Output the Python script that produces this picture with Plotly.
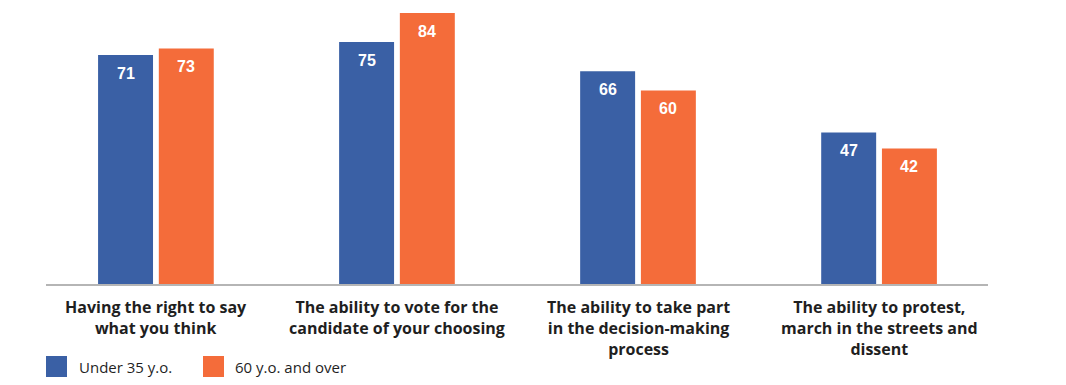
import plotly.graph_objects as go

categories = [
    "Having the right to say<br>what you think",
    "The ability to vote for the<br>candidate of your choosing",
    "The ability to take part<br>in the decision-making<br>process",
    "The ability to protest,<br>march in the streets and<br>dissent",
]
series_names = ["Under 35 y.o.", "60 y.o. and over"]
under35 = [71, 75, 66, 47]
over60 = [73, 84, 60, 42]

BLUE = "#3a60a5"
ORANGE = "#f46c3a"
TEXT = "#1f1f1f"
FONT = "Open Sans"

# page offset (body margin) compensation
OFF = 8
W, H = 1066 - OFF, 385 - OFF
L = 46 - OFF
R = W - (988 - OFF)
B = H - (284 - OFF)
T = 2

x = list(range(len(categories)))

fig = go.Figure()
fig.add_trace(go.Bar(x=x, y=under35, name=series_names[0], marker_color=BLUE,
                     width=0.228, offset=-0.240, marker_line_width=0))
fig.add_trace(go.Bar(x=x, y=over60, name=series_names[1], marker_color=ORANGE,
                     width=0.228, offset=0.012, marker_line_width=0))

annotations = []
for i, (a, b) in enumerate(zip(under35, over60)):
    annotations.append(dict(x=i - 0.126, y=a, text=f"<b>{a}</b>", showarrow=False,
                            yshift=-18, yanchor="middle",
                            font=dict(family="Liberation Sans", size=16, color="white")))
    annotations.append(dict(x=i + 0.126, y=b, text=f"<b>{b}</b>", showarrow=False,
                            yshift=-18, yanchor="middle",
                            font=dict(family="Liberation Sans", size=16, color="white")))
for i, cat in enumerate(categories):
    annotations.append(dict(x=i, y=0, text=f"<b>{cat}</b>", showarrow=False,
                            yanchor="top", yshift=-10, align="center",
                            font=dict(family=FONT, size=16, color=TEXT)))

plot_w = W - L - R
plot_h = H - T - B
def px_to_paper_x(px):
    return (px - OFF - L) / plot_w
def px_to_paper_y(py):
    return (H - B - (py - OFF)) / plot_h

shapes = []
legend_items = [(46, 77), (203, 233)]
for (sx, tx), nm, col in zip(legend_items, series_names, [BLUE, ORANGE]):
    shapes.append(dict(type="rect", xref="paper", yref="paper",
                       x0=px_to_paper_x(sx), x1=px_to_paper_x(sx + 21),
                       y0=px_to_paper_y(377), y1=px_to_paper_y(356),
                       fillcolor=col, line_width=0))
    annotations.append(dict(xref="paper", yref="paper", x=px_to_paper_x(tx), y=px_to_paper_y(367),
                            text=nm, showarrow=False, xanchor="left", yanchor="middle",
                            font=dict(family=FONT, size=15, color=TEXT)))

fig.update_layout(
    width=W, height=H,
    margin=dict(l=L, r=R, t=T, b=B),
    plot_bgcolor="white", paper_bgcolor="white",
    showlegend=False,
    xaxis=dict(range=[-0.456, 3.452], showticklabels=False, showgrid=False, zeroline=False,
               showline=True, linecolor="#b5b5b5", linewidth=2),
    yaxis=dict(range=[0, 84.96], visible=False),
    annotations=annotations, shapes=shapes,
)

fig.write_html("out.html")
